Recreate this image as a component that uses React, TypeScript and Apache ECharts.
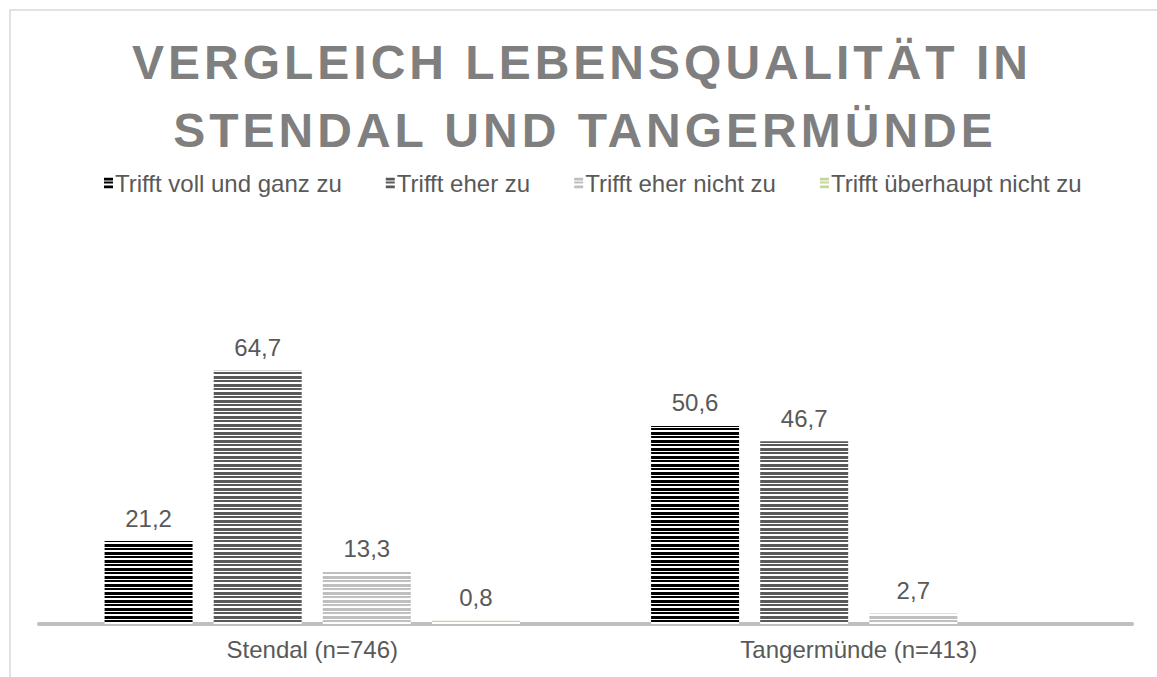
import React, { useEffect, useRef } from "react";
import * as echarts from "echarts";

const titleLines = ["VERGLEICH LEBENSQUALITÄT IN", "STENDAL UND TANGERMÜNDE"];
const categories = ["Stendal (n=746)", "Tangermünde (n=413)"];
const seriesNames = [
  "Trifft voll und ganz zu",
  "Trifft eher zu",
  "Trifft eher nicht zu",
  "Trifft überhaupt nicht zu",
];
const vollUndGanz = [21.2, 50.6];
const eher = [64.7, 46.7];
const eherNicht = [13.3, 2.7];
const ueberhauptNicht: (number | null)[] = [0.8, null];
const seriesColors = ["#000000", "#595959", "#bfbfbf", "#c4d79b"];

function stripe(color: string) {
  const c = document.createElement("canvas");
  c.width = 4;
  c.height = 8;
  const ctx = c.getContext("2d")!;
  ctx.fillStyle = "#ffffff";
  ctx.fillRect(0, 0, 4, 8);
  ctx.fillStyle = color;
  ctx.fillRect(0, 0, 4, 3);
  ctx.fillRect(0, 4, 4, 2);
  return { image: c, repeat: "repeat" } as any;
}

const FONT = "'Liberation Sans', Arial, sans-serif";

export default function App() {
  const ref = useRef<HTMLDivElement>(null);
  useEffect(() => {
    if (!ref.current) return;
    const chart = echarts.init(ref.current, null, { renderer: "svg" });
    const allData = [vollUndGanz, eher, eherNicht, ueberhauptNicht];
    chart.setOption({
      animation: false,
      backgroundColor: "#ffffff",
      textStyle: { fontFamily: FONT },
      graphic: [
        {
          type: "rect",
          shape: { x: 10, y: 10, width: 1200, height: 700 },
          style: { fill: "none", stroke: "#d9d9d9", lineWidth: 1.5 },
          silent: true,
        },
        {
          type: "text",
          x: 582,
          y: 62,
          style: {
            text: titleLines[0],
            fill: "#7f7f7f",
            font: "bold 48px " + FONT,
            textAlign: "center",
            textVerticalAlign: "middle",
          },
          silent: true,
        },
        {
          type: "text",
          x: 585,
          y: 130,
          style: {
            text: titleLines[1],
            fill: "#7f7f7f",
            font: "bold 48px " + FONT,
            textAlign: "center",
            textVerticalAlign: "middle",
          },
          silent: true,
        },
      ],
      legend: {
        top: 166,
        left: 99,
        itemWidth: 9,
        itemHeight: 11,
        itemGap: 44,
        icon: "rect",
        textStyle: { color: "#595959", fontSize: 24, fontFamily: FONT, padding: [0, 0, 0, -3] },
        data: seriesNames,
      },
      grid: { left: 39, right: 25, top: 350, bottom: 53 },
      xAxis: {
        type: "category",
        data: categories,
        axisLine: { lineStyle: { color: "#bfbfbf", width: 4 } },
        axisTick: { show: false },
        axisLabel: { color: "#595959", fontSize: 24, margin: 13, fontFamily: FONT },
      },
      yAxis: {
        type: "value",
        min: 0,
        max: 70,
        show: false,
        splitLine: { show: false },
      },
      series: seriesNames.map((name, i) => ({
        name,
        type: "bar",
        data: allData[i],
        barGap: "24%",
        barCategoryGap: "24%",
        itemStyle: { color: stripe(seriesColors[i]) },
        label: {
          show: true,
          position: "top",
          distance: 11,
          color: "#595959",
          fontSize: 24,
          fontFamily: FONT,
          formatter: (p: any) => String(p.value).replace(".", ","),
        },
      })),
    });
    const applySpacing = () => {
      const texts = ref.current?.querySelectorAll("text") || [];
      texts.forEach((t: any) => {
        if (titleLines.includes((t.textContent || "").trim())) {
          t.style.letterSpacing = "4px";
        }
      });
    };
    applySpacing();
    chart.on("finished", applySpacing);
    return () => chart.dispose();
  }, []);
  return (
    <div
      ref={ref}
      style={{ position: "fixed", left: 0, top: 0, width: 1157, height: 677 }}
    />
  );
}
